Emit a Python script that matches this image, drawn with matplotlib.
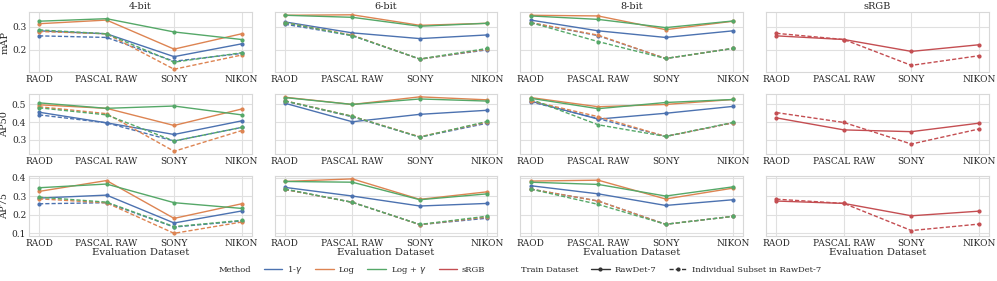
import numpy as np
import matplotlib
matplotlib.use("Agg")
import matplotlib.pyplot as plt
from matplotlib.lines import Line2D
from matplotlib.ticker import MultipleLocator
import seaborn as sns

sns.set_theme(style="whitegrid")
plt.rcParams['font.family'] = ['DejaVu Serif']

# categories / labels
datasets = ['RAOD', 'PASCAL RAW', 'SONY', 'NIKON']
bit_cols = ['4-bit', '6-bit', '8-bit', 'sRGB']
metrics = ['mAP', 'AP50', 'AP75']
methods = ['1-$\\gamma$', 'Log', 'Log + $\\gamma$', 'sRGB']
train_sets = ['RawDet-7', 'Individual Subset in RawDet-7']

# values, order of methods: 1-gamma, Log, Log+gamma
map_4bit_rawdet = [[0.283, 0.270, 0.170, 0.226], [0.314, 0.330, 0.203, 0.270], [0.325, 0.336, 0.278, 0.245]]
map_4bit_subset = [[0.261, 0.254, 0.150, 0.184], [0.280, 0.270, 0.115, 0.177], [0.287, 0.270, 0.146, 0.187]]
map_6bit_rawdet = [[0.322, 0.274, 0.249, 0.265], [0.351, 0.353, 0.307, 0.316], [0.351, 0.342, 0.303, 0.316]]
map_6bit_subset = [[0.312, 0.262, 0.159, 0.200], [0.319, 0.264, 0.159, 0.203], [0.319, 0.262, 0.160, 0.206]]
map_8bit_rawdet = [[0.330, 0.283, 0.254, 0.283], [0.351, 0.348, 0.288, 0.325], [0.348, 0.333, 0.297, 0.326]]
map_8bit_subset = [[0.318, 0.262, 0.162, 0.206], [0.319, 0.264, 0.162, 0.206], [0.319, 0.236, 0.162, 0.206]]
map_srgb_rawdet = [0.261, 0.245, 0.193, 0.222]
map_srgb_subset = [0.272, 0.245, 0.132, 0.174]

ap50_4bit_rawdet = [[0.456, 0.396, 0.330, 0.407], [0.498, 0.478, 0.381, 0.474], [0.509, 0.478, 0.491, 0.441]]
ap50_4bit_subset = [[0.441, 0.396, 0.293, 0.370], [0.487, 0.448, 0.235, 0.352], [0.481, 0.441, 0.293, 0.370]]
ap50_6bit_rawdet = [[0.507, 0.402, 0.444, 0.467], [0.541, 0.500, 0.543, 0.526], [0.539, 0.500, 0.531, 0.519]]
ap50_6bit_subset = [[0.519, 0.430, 0.315, 0.394], [0.521, 0.433, 0.317, 0.400], [0.520, 0.433, 0.315, 0.404]]
ap50_8bit_rawdet = [[0.519, 0.417, 0.450, 0.489], [0.539, 0.487, 0.500, 0.528], [0.535, 0.476, 0.511, 0.528]]
ap50_8bit_subset = [[0.515, 0.420, 0.319, 0.396], [0.520, 0.431, 0.319, 0.396], [0.530, 0.385, 0.319, 0.398]]
ap50_srgb_rawdet = [0.424, 0.356, 0.346, 0.394]
ap50_srgb_subset = [0.454, 0.398, 0.276, 0.361]

ap75_4bit_rawdet = [[0.291, 0.307, 0.156, 0.221], [0.327, 0.386, 0.181, 0.260], [0.347, 0.367, 0.266, 0.235]]
ap75_4bit_subset = [[0.260, 0.266, 0.134, 0.167], [0.287, 0.265, 0.100, 0.161], [0.296, 0.269, 0.136, 0.170]]
ap75_6bit_rawdet = [[0.349, 0.302, 0.248, 0.262], [0.381, 0.395, 0.284, 0.325], [0.381, 0.377, 0.282, 0.314]]
ap75_6bit_subset = [[0.338, 0.268, 0.147, 0.182], [0.338, 0.268, 0.147, 0.188], [0.340, 0.268, 0.148, 0.193]]
ap75_8bit_rawdet = [[0.358, 0.314, 0.251, 0.282], [0.383, 0.388, 0.286, 0.345], [0.377, 0.365, 0.302, 0.352]]
ap75_8bit_subset = [[0.340, 0.275, 0.149, 0.192], [0.340, 0.275, 0.149, 0.192], [0.340, 0.257, 0.149, 0.192]]
ap75_srgb_rawdet = [0.275, 0.262, 0.195, 0.220]
ap75_srgb_subset = [0.285, 0.262, 0.115, 0.150]

colors = sns.color_palette('deep')[:4]
fs = 6.5
lw = 1.0
ms = 2.0
dash = (0, (3, 1.5))

panels = [
    [(map_4bit_rawdet, map_4bit_subset), (map_6bit_rawdet, map_6bit_subset),
     (map_8bit_rawdet, map_8bit_subset), ([map_srgb_rawdet], [map_srgb_subset])],
    [(ap50_4bit_rawdet, ap50_4bit_subset), (ap50_6bit_rawdet, ap50_6bit_subset),
     (ap50_8bit_rawdet, ap50_8bit_subset), ([ap50_srgb_rawdet], [ap50_srgb_subset])],
    [(ap75_4bit_rawdet, ap75_4bit_subset), (ap75_6bit_rawdet, ap75_6bit_subset),
     (ap75_8bit_rawdet, ap75_8bit_subset), ([ap75_srgb_rawdet], [ap75_srgb_subset])],
]

fig, axes = plt.subplots(3, 4, figsize=(9.97, 2.81), dpi=100, sharey='row')
fig.subplots_adjust(left=0.029, right=0.992, top=0.957, bottom=0.16, wspace=0.103, hspace=0.37)

x = np.arange(len(datasets))
for r in range(3):
    for c in range(4):
        ax = axes[r, c]
        solid, dashed = panels[r][c]
        cols = [colors[3]] if c == 3 else colors[:3]
        for vals, col in zip(solid, cols):
            ax.plot(x, vals, color=col, lw=lw, marker='o', ms=ms, ls='-')
        for vals, col in zip(dashed, cols):
            ax.plot(x, vals, color=col, lw=lw, marker='o', ms=ms, ls=dash)
        ax.set_xticks(x)
        ax.set_xticklabels(datasets, fontsize=fs)
        ax.yaxis.set_major_locator(MultipleLocator(0.1))
        ax.tick_params(axis='both', labelsize=fs, pad=2, length=0)
        ax.grid(True, color='#e0e0e0', lw=0.8)
        for s in ax.spines.values():
            s.set_color('#d8d8d8')
            s.set_linewidth(0.8)
        if r == 0:
            ax.set_title(bit_cols[c], fontsize=7, pad=2)
        if c == 0:
            ax.set_ylabel(metrics[r], fontsize=7, labelpad=2)
        if r == 2:
            ax.set_xlabel('Evaluation Dataset', fontsize=7.3, labelpad=0)

# legend
blank = Line2D([], [], color='none')
handles = [blank]
labels = ['Method']
for m, col in zip(methods, colors):
    handles.append(Line2D([], [], color=col, lw=lw))
    labels.append(m)
handles.append(blank)
labels.append('Train Dataset')
handles.append(Line2D([], [], color='#333333', lw=lw, marker='o', ms=ms))
labels.append(train_sets[0])
handles.append(Line2D([], [], color='#333333', lw=lw, marker='o', ms=ms, ls=dash))
labels.append(train_sets[1])
fig.legend(handles, labels, loc='lower center', bbox_to_anchor=(0.51, -0.01), ncol=9,
           frameon=False, fontsize=6, handlelength=2.2, handletextpad=0.6, columnspacing=1.5)

fig.savefig('out.png', dpi=100)
